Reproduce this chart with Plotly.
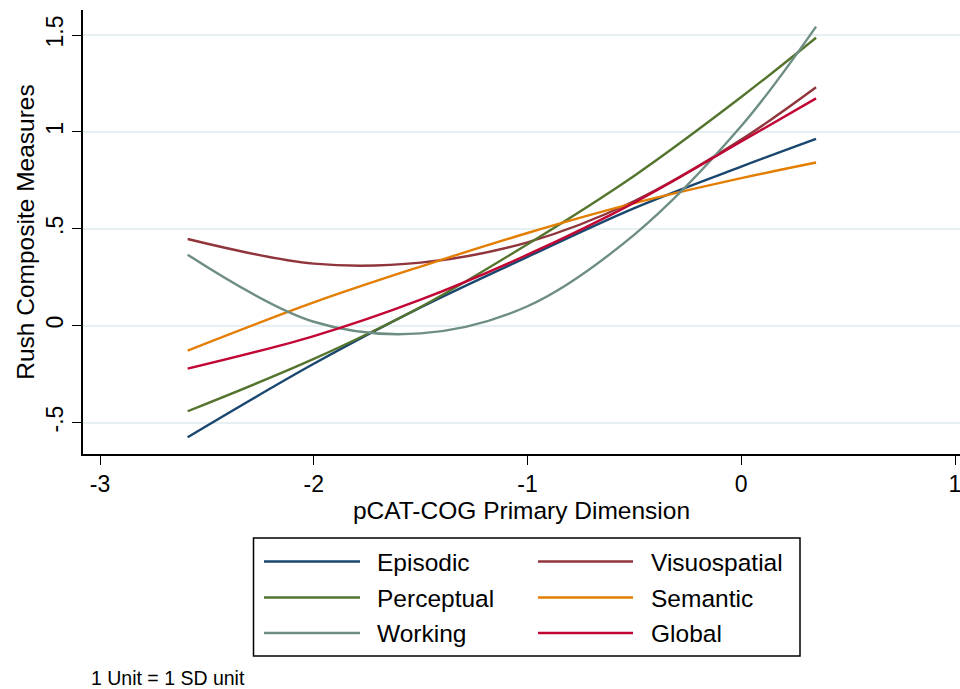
import plotly.graph_objects as go

# ---------------- data ----------------
x_vals = [-2.59, -2.0, -1.5, -1.0, -0.5, 0.0, 0.35]

episodic = [-0.576, -0.197, 0.094, 0.355, 0.607, 0.821, 0.964]
visuospatial = [0.447, 0.320, 0.325, 0.430, 0.643, 0.960, 1.230]
perceptual = [-0.442, -0.172, 0.096, 0.420, 0.774, 1.180, 1.486]
semantic = [-0.129, 0.120, 0.305, 0.478, 0.632, 0.761, 0.842]
working = [0.366, 0.020, -0.040, 0.100, 0.470, 1.030, 1.543]
global_ = [-0.222, -0.054, 0.134, 0.366, 0.635, 0.950, 1.173]

series_names = ["Episodic", "Visuospatial", "Perceptual", "Semantic", "Working", "Global"]
series_values = [episodic, visuospatial, perceptual, semantic, working, global_]
series_colors = ["#1a476f", "#90353b", "#55752f", "#e37e00", "#6e8e84", "#c10534"]

x_ticks = [-3, -2, -1, 0, 1]
x_ticklabels = ["-3", "-2", "-1", "0", "1"]
y_ticks = [-0.5, 0, 0.5, 1, 1.5]
y_ticklabels = ["-.5", "0", ".5", "1", "1.5"]

x_title = "pCAT-COG Primary Dimension"
y_title = "Rush Composite Measures"
note_text = "1 Unit = 1 SD unit"

# ---------------- layout geometry ----------------
W, H = 960, 689
L, R, T, B = 83, 0, 10, 235
PW = W - L - R
PH = H - T - B
FONT = "Liberation Sans, Arial, Helvetica, sans-serif"


def pxx(px):
    return (px - L) / PW


def pxy(py):
    return (H - B - py) / PH


fig = go.Figure()
for name, vals, col in zip(series_names, series_values, series_colors):
    fig.add_trace(go.Scatter(
        x=x_vals, y=vals, mode="lines", name=name,
        line=dict(color=col, width=2.4, shape="spline", smoothing=1.0),
        showlegend=False,
    ))

# ---------------- manual Stata-style legend ----------------
shapes = [dict(type="rect", xref="paper", yref="paper",
               x0=pxx(253.5), x1=pxx(800), y0=pxy(538), y1=pxy(656),
               line=dict(color="black", width=1.5), fillcolor="white", layer="below")]
annotations = []
col_line_x = [(264, 360), (538, 633)]
col_text_x = [375, 649]
row_y = [561.5, 597.5, 633]
for i, (name, col) in enumerate(zip(series_names, series_colors)):
    c = i % 2
    r = i // 2
    x0, x1 = col_line_x[c]
    shapes.append(dict(type="line", xref="paper", yref="paper",
                       x0=pxx(x0), x1=pxx(x1), y0=pxy(row_y[r]), y1=pxy(row_y[r]),
                       line=dict(color=col, width=2.4)))
    annotations.append(dict(xref="paper", yref="paper", x=pxx(col_text_x[c]), y=pxy(row_y[r] + 0.5),
                            text=name, showarrow=False, xanchor="left", yanchor="middle",
                            font=dict(family=FONT, size=24.5, color="black")))

annotations.append(dict(xref="paper", yref="paper", x=pxx(89), y=pxy(678),
                        text=note_text, showarrow=False, xanchor="left", yanchor="middle",
                        font=dict(family=FONT, size=19.5, color="black")))

fig.update_layout(
    width=W, height=H,
    margin=dict(l=L, r=R, t=T, b=B, pad=0),
    paper_bgcolor="white", plot_bgcolor="white",
    font=dict(family=FONT, color="black"),
    shapes=shapes, annotations=annotations,
    showlegend=False,
)

fig.update_xaxes(
    range=[-3 - (100 - L) / 213.75, 1 + (W - R - 955) / 213.75],
    tickmode="array", tickvals=x_ticks, ticktext=x_ticklabels,
    ticks="outside", ticklen=9, tickwidth=1.3, tickcolor="black",
    tickfont=dict(family=FONT, size=23, color="black"),
    ticklabeloverflow="allow",
    showline=True, linecolor="black", linewidth=1.5,
    showgrid=False, zeroline=False,
    title=dict(text=x_title, font=dict(family=FONT, size=24.5, color="black"), standoff=2),
)
fig.update_yaxes(
    range=[-0.5 - 31.5 / 193.75, 1.5 + 25 / 193.75],
    tickmode="array", tickvals=y_ticks, ticktext=y_ticklabels,
    tickangle=-90,
    ticks="outside", ticklen=9, tickwidth=1.3, tickcolor="black",
    tickfont=dict(family=FONT, size=23, color="black"),
    showline=True, linecolor="black", linewidth=1.5,
    showgrid=True, gridcolor="#e6eff1", gridwidth=1.8,
    zeroline=False,
    title=dict(text=y_title, font=dict(family=FONT, size=24.5, color="black"), standoff=0),
)

fig.write_html(
    "out.html",
    config={"displayModeBar": False},
    post_script="document.body.style.margin='0';document.body.style.padding='0';document.body.style.overflow='hidden';",
)
